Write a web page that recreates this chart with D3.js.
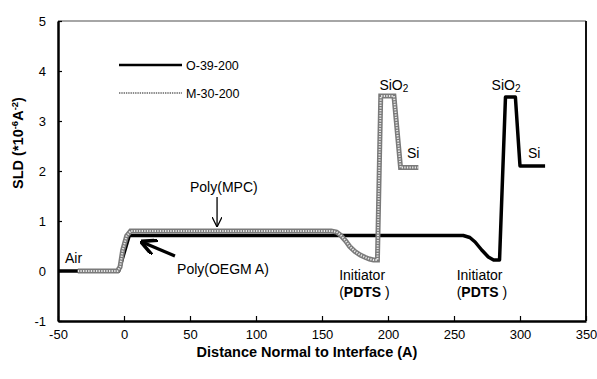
<!DOCTYPE html>
<html><head><meta charset="utf-8">
<script src="https://cdn.jsdelivr.net/npm/d3@7"></script>
<style>
body{margin:0;background:#fff;}
svg text{font-family:"Liberation Sans",Arial,sans-serif;}
</style></head>
<body><svg id="c" width="597" height="379"></svg>
<script>
// ---- data ----
const xTicks = [-50, 0, 50, 100, 150, 200, 250, 300, 350];
const yTicks = [-1, 0, 1, 2, 3, 4, 5];
const seriesNames = ["O-39-200", "M-30-200"];
// O-39-200 (black)
const oX = [-50, -4, 4, 257, 262, 266, 271, 276, 280, 284.5, 289, 296.5, 300, 319];
const oY = [0, 0, 0.71, 0.71, 0.67, 0.58, 0.42, 0.28, 0.22, 0.22, 3.48, 3.48, 2.1, 2.1];
// M-30-200 (grey textured)
const mX = [-35, -5, -3, -1, 2, 5, 157, 161, 164, 168, 171, 175, 179, 183, 186, 189, 192, 194.5, 204.5, 209.5, 223];
const mY = [0, 0, 0.08, 0.42, 0.7, 0.8, 0.8, 0.78, 0.72, 0.6, 0.49, 0.39, 0.32, 0.27, 0.24, 0.22, 0.22, 3.5, 3.5, 2.07, 2.07];

const svg = d3.select("#c");
const x = d3.scaleLinear().domain([-50, 350]).range([58, 586]);
const y = d3.scaleLinear().domain([-1, 5]).range([321, 21]);
const fmt = d => String(d);

// frame top/right
svg.append("line").attr("x1", x(-50)).attr("x2", x(350)).attr("y1", y(5)).attr("y2", y(5))
  .attr("stroke", "#888").attr("stroke-width", 1.5);
svg.append("line").attr("x1", x(350)).attr("x2", x(350)).attr("y1", y(5)).attr("y2", y(-1))
  .attr("stroke", "#111").attr("stroke-width", 2);

// axes
const gx = svg.append("g").attr("transform", `translate(0,${y(-1)})`)
  .call(d3.axisBottom(x).tickValues(xTicks).tickFormat(fmt).tickSize(-5).tickSizeOuter(0).tickPadding(8.5));
gx.select(".domain").attr("stroke-width", 2.5);
gx.selectAll(".tick line").attr("stroke-width", 1.2);

const gy = svg.append("g").attr("transform", `translate(${x(-50)},0)`)
  .call(d3.axisLeft(y).tickValues(yTicks).tickFormat(fmt).tickSize(-4).tickSizeOuter(0).tickPadding(12));
gy.select(".domain").attr("stroke-width", 2.5);
gy.selectAll(".tick line").attr("stroke-width", 1.2);
svg.selectAll("g").attr("font-family", null).attr("font-size", null);
svg.selectAll(".tick text").attr("font-size", 13).attr("fill", "#000")
  .style("font-family", '"Liberation Sans",Arial,sans-serif');

// lines
const line = d3.line().x(d => x(d[0])).y(d => y(d[1]));
const oData = oX.map((v, i) => [v, oY[i]]);
const mData = mX.map((v, i) => [v, mY[i]]);

svg.append("path").datum(oData).attr("d", line).attr("fill", "none")
  .attr("stroke", "#000").attr("stroke-width", 3.5).attr("stroke-linejoin", "round");

svg.append("path").datum(mData).attr("d", line).attr("fill", "none")
  .attr("stroke", "#7a7a7a").attr("stroke-width", 5).attr("stroke-linejoin", "miter");
svg.append("path").datum(mData).attr("d", line).attr("fill", "none")
  .attr("stroke", "#e8e8e8").attr("stroke-width", 2).attr("stroke-dasharray", "1.3,1.3");

// legend
const leg = svg.append("g");
leg.append("line").attr("x1", 119).attr("x2", 182).attr("y1", 65).attr("y2", 65)
  .attr("stroke", "#000").attr("stroke-width", 2.5);
leg.append("text").attr("x", 186).attr("y", 69.5).attr("font-size", 12.5).text(seriesNames[0]);
leg.append("line").attr("x1", 119).attr("x2", 182).attr("y1", 93).attr("y2", 93)
  .attr("stroke", "#666").attr("stroke-width", 1.6).attr("stroke-dasharray", "1.4,0.9");
leg.append("text").attr("x", 186).attr("y", 97.5).attr("font-size", 12.5).text(seriesNames[1]);

// axis titles
svg.append("text").attr("x", 307).attr("y", 357).attr("text-anchor", "middle")
  .attr("font-size", 14.5).attr("font-weight", "bold").text("Distance Normal to Interface (A)");
const yt = svg.append("text").attr("transform", "translate(23,143) rotate(-90)")
  .attr("text-anchor", "middle").attr("font-size", 14.5).attr("font-weight", "bold");
yt.append("tspan").text("SLD (*10");
yt.append("tspan").attr("font-size", 9.5).attr("dy", -5).text("-6");
yt.append("tspan").attr("dy", 5).text("A");
yt.append("tspan").attr("font-size", 9.5).attr("dy", -5).text("-2");
yt.append("tspan").attr("dy", 5).text(")");

// annotations (data coordinates)
const fs = 14;
function label(xd, yd, txt, color) {
  return svg.append("text").attr("x", x(xd)).attr("y", y(yd)).attr("font-size", fs)
    .attr("fill", color || "#000").text(txt);
}
label(-44.7, 0.16, "Air");
label(50, 1.58, "Poly(MPC)");
label(40.2, -0.06, "Poly(OEGM A)");
label(163, -0.18, "Initiator");
label(252, -0.18, "Initiator");
function pdts(xd) {
  const t = svg.append("text").attr("x", x(xd)).attr("y", y(-0.52)).attr("font-size", fs);
  t.append("tspan").text("(");
  t.append("tspan").attr("font-weight", "bold").text("PDTS");
  t.append("tspan").text(" )");
}
pdts(163); pdts(252);
function sio2(xd, color) {
  const t = svg.append("text").attr("x", x(xd)).attr("y", y(3.62)).attr("font-size", fs).attr("fill", color);
  t.append("tspan").text("SiO");
  t.append("tspan").attr("font-size", 10).attr("dy", 2).text("2");
}
sio2(193.5, "#000"); sio2(278.5, "#000");
label(214.4, 2.26, "Si");
label(306, 2.26, "Si");

// arrows
const defs = svg.append("defs");
defs.append("marker").attr("id", "ah").attr("viewBox", "0 0 10 10").attr("refX", 10).attr("refY", 5)
  .attr("markerWidth", 10).attr("markerHeight", 10).attr("markerUnits", "userSpaceOnUse").attr("orient", "auto")
  .append("path").attr("d", "M0,0 L10,5 L0,10").attr("fill", "none").attr("stroke", "#000").attr("stroke-width", 1.3);
defs.append("marker").attr("id", "ah2").attr("viewBox", "0 0 10 10").attr("refX", 9).attr("refY", 5)
  .attr("markerWidth", 16).attr("markerHeight", 16).attr("markerUnits", "userSpaceOnUse").attr("orient", "auto")
  .append("path").attr("d", "M0,0 L10,5 L0,10").attr("fill", "none").attr("stroke", "#000").attr("stroke-width", 2.2);

svg.append("line").attr("x1", x(70.5)).attr("y1", y(1.48)).attr("x2", x(70.5)).attr("y2", y(0.88))
  .attr("stroke", "#000").attr("stroke-width", 1.3).attr("marker-end", "url(#ah)");
svg.append("line").attr("x1", x(38.6)).attr("y1", y(0.3)).attr("x2", x(13.6)).attr("y2", y(0.58))
  .attr("stroke", "#000").attr("stroke-width", 3.2).attr("marker-end", "url(#ah2)");
</script></body></html>
